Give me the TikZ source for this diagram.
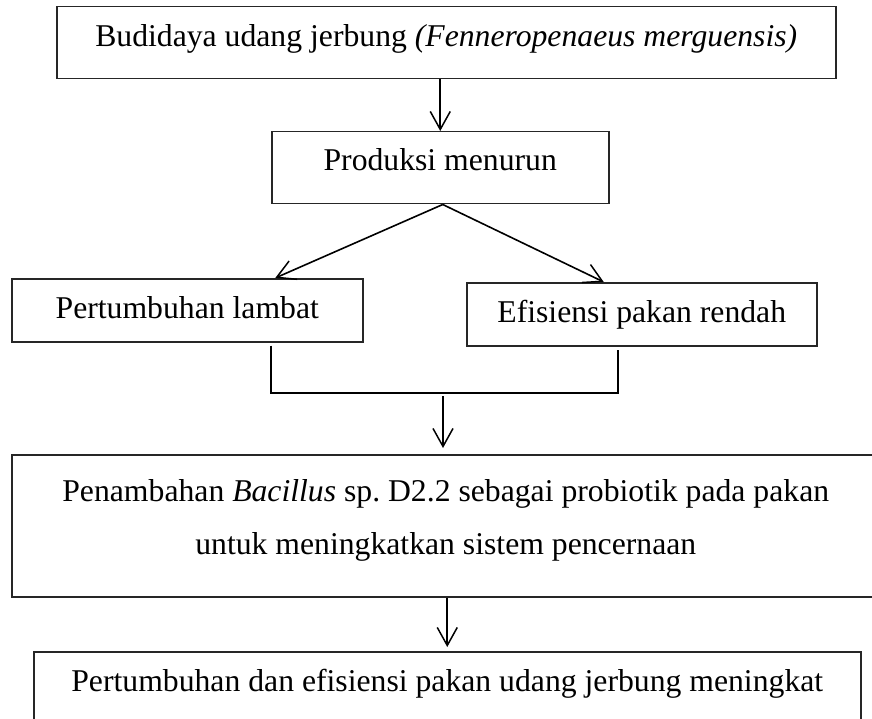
\documentclass[tikz,border=0pt]{standalone}
\usepackage{fontspec}
\setmainfont{Liberation Serif}
\usetikzlibrary{arrows.meta}
\begin{document}
\begin{tikzpicture}[x=1pt, y=-1pt,
        box/.style={rectangle, draw=black!85, line width=1.5pt, inner sep=0pt, anchor=north west, align=flush center, font=\fontsize{31.7}{53}\selectfont},
        arrow/.style={-{Straight Barb[length=18pt, width=20pt, line width=1.5pt]}, line width=1.6pt},
        line/.style={line width=1.8pt}
    ]
    \useasboundingbox (0,0) rectangle (872,719);
    \node[box, minimum width=779pt, text height=40pt, text depth=32pt] (budidaya) at (56,6) {Budidaya udang jerbung \textit{(Fenneropenaeus merguensis)}};
    \node[box, minimum width=337pt, text height=39pt, text depth=33pt] (produksi) at (271,131) {Produksi menurun};
    \node[box, minimum width=351pt, text height=40pt, text depth=23pt] (lambat) at (11,278) {Pertumbuhan lambat};
    \node[box, minimum width=350pt, text height=40pt, text depth=23pt] (efisiensi) at (466,282) {Efisiensi pakan rendah};
    \node[box, text width=868pt, text height=47pt, text depth=95pt] (penambahan) at (11,454) {Penambahan \textit{Bacillus} sp.\ D2.2 sebagai probiotik pada pakan\\untuk meningkatkan sistem pencernaan};
    \node[box, minimum width=827pt, text height=40pt, text depth=40pt] (meningkat) at (33,651) {Pertumbuhan dan efisiensi pakan udang jerbung meningkat};
    \coordinate (gabungL) at (271,393);
    \coordinate (gabungR) at (618,393);
    \coordinate (gabung) at (443,393);
    \draw[arrow] (budidaya.south -| produksi.north) -- (produksi.north);
    \draw[arrow] ([xshift=2.5pt]produksi.south) -- ([xshift=88pt]lambat.north);
    \draw[arrow] ([xshift=2.5pt]produksi.south) -- ([xshift=-38pt]efisiensi.north);
    \draw[line, shorten <=3pt, shorten >=3pt] (lambat.south -| gabungL) -- (gabungL) -- (gabungR) -- (efisiensi.south -| gabungR);
    \draw[arrow, shorten <=3pt, shorten >=6pt] (gabung) -- (gabung |- penambahan.north);
    \draw[arrow, shorten >=4pt] (penambahan.south -| meningkat.north) -- (meningkat.north);
\end{tikzpicture}
\end{document}
